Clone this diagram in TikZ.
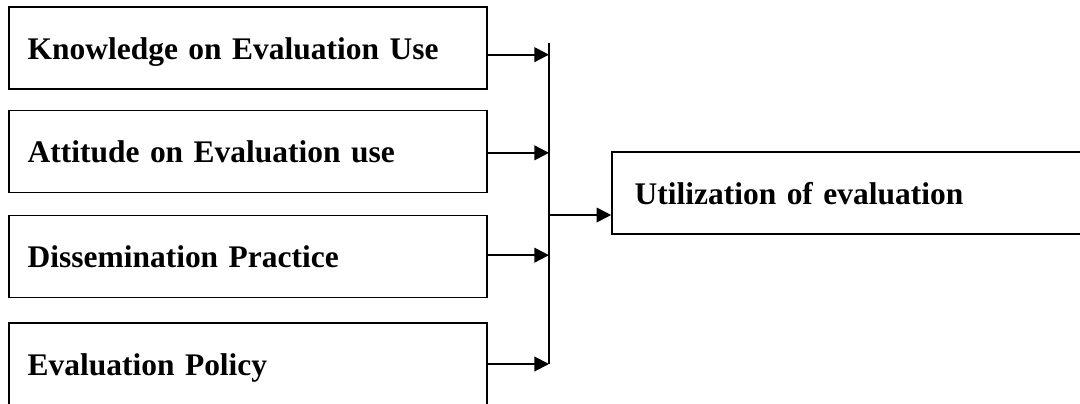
\documentclass[tikz,border=0pt]{standalone}
\usepackage{fontspec}
\setmainfont{Liberation Serif}
\usetikzlibrary{arrows.meta}
\begin{document}
\begin{tikzpicture}[x=0.75pt,y=-0.75pt,
  box/.style={draw, line width=1.2pt, minimum height=61.5pt, inner xsep=14pt,
    text height=20pt, text depth=2.8pt,
    text width=330.5pt, align=left, font=\bfseries\fontsize{23.6}{27}\selectfont},
  outbox/.style={box, inner xsep=17pt, text width=320.75pt},
  arr/.style={line width=1.5pt, -{Triangle[length=11pt,width=11pt]}},
  busline/.style={line width=1.1pt}]
\useasboundingbox (0,0) rectangle (1080,403);
\node[box] (k) at (248,48) {Knowledge on Evaluation Use};
\node[box] (a) at (248,151.5) {Attitude on Evaluation use};
\node[box] (d) at (248,256.5) {Dissemination Practice};
\node[box] (p) at (248,364) {Evaluation Policy};
\node[outbox] (u) at (848.5,193) {Utilization of evaluation};
\coordinate (bustop) at (549,43);
\coordinate (busbot) at (549,364);
\coordinate (busmid) at (549,215);
\draw[busline] (bustop) -- (busbot);
\draw[arr] ([yshift=-5pt]k.east) -- ([yshift=-5pt]k.east -| bustop);
\draw[arr] ([yshift=-1pt]a.east) -- ([yshift=-1pt]a.east -| bustop);
\draw[arr] ([yshift=1pt]d.east) -- ([yshift=1pt]d.east -| bustop);
\draw[arr] (p.east) -- (p.east -| bustop);
\draw[arr] (busmid) -- (busmid -| u.west);
\end{tikzpicture}
\end{document}
